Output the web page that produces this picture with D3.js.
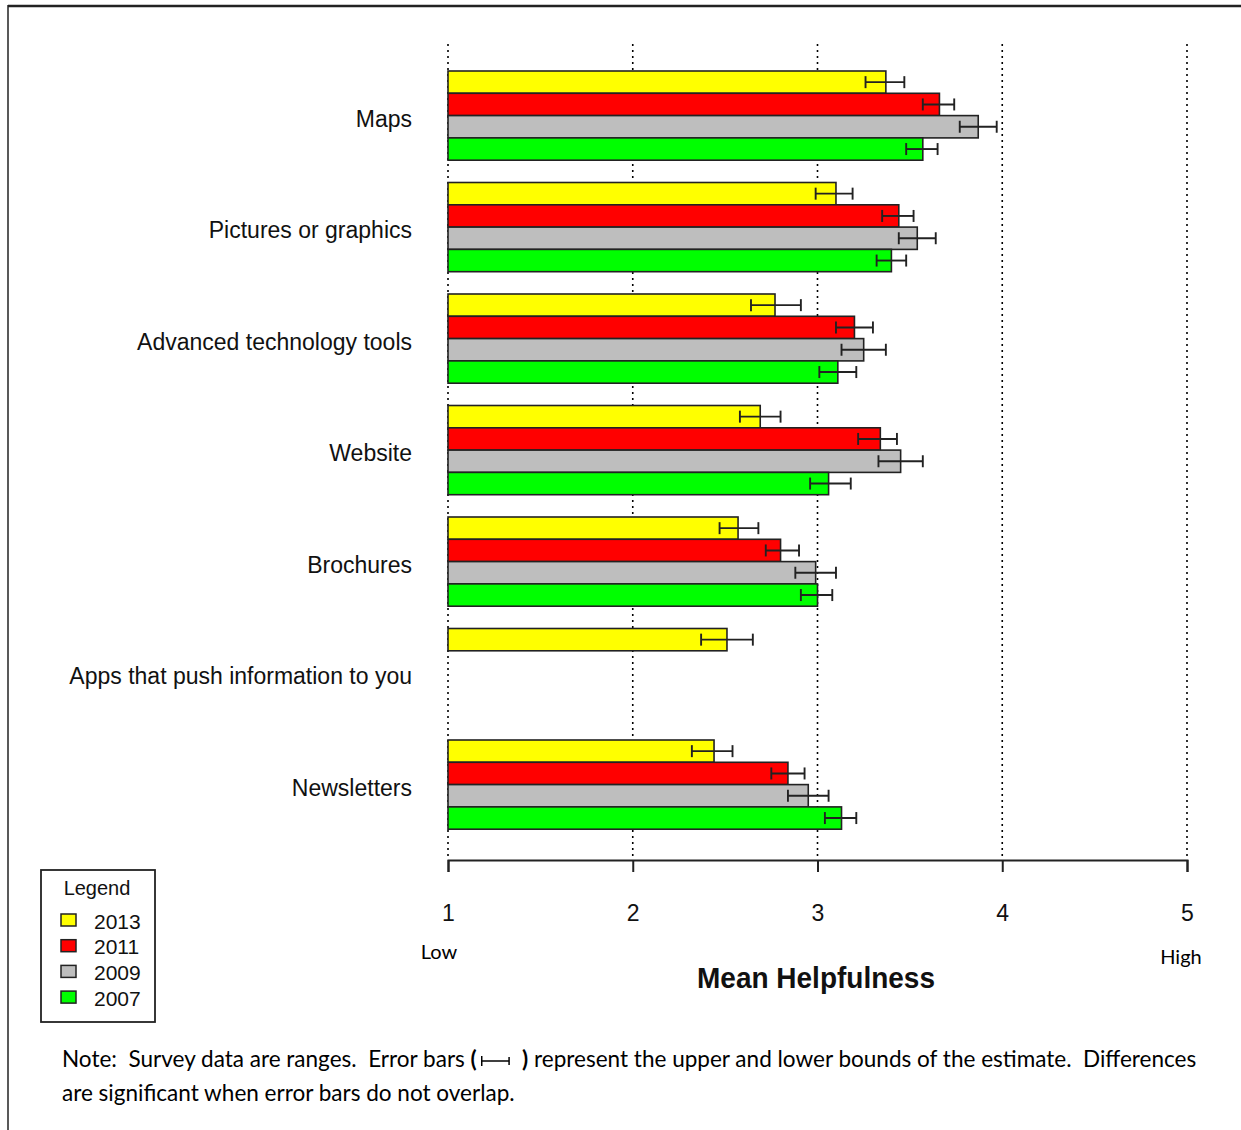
<!DOCTYPE html>
<html>
<head>
<meta charset="utf-8">
<script src="https://cdn.jsdelivr.net/npm/d3@7"></script>
<style>
  html, body { margin: 0; padding: 0; background: #fff; }
  svg { display: block; }
</style>
</head>
<body>
<svg id="chart" width="1241" height="1130"></svg>
<script>
// ---------- data ----------
const categories = ["Maps", "Pictures or graphics", "Advanced technology tools", "Website",
                    "Brochures", "Apps that push information to you", "Newsletters"];
const seriesNames = ["2013", "2011", "2009", "2007"];
const seriesColors = ["#FFFF00", "#FF0000", "#BEBEBE", "#00FF00"];

const mean2013 = [3.37, 3.10, 2.77, 2.69, 2.57, 2.51, 2.44];
const lo2013   = [3.26, 2.99, 2.64, 2.58, 2.47, 2.37, 2.32];
const hi2013   = [3.47, 3.19, 2.91, 2.80, 2.68, 2.65, 2.54];

const mean2011 = [3.66, 3.44, 3.20, 3.34, 2.80, null, 2.84];
const lo2011   = [3.57, 3.35, 3.10, 3.22, 2.72, null, 2.75];
const hi2011   = [3.74, 3.52, 3.30, 3.43, 2.90, null, 2.93];

const mean2009 = [3.87, 3.54, 3.25, 3.45, 2.99, null, 2.95];
const lo2009   = [3.77, 3.44, 3.13, 3.33, 2.88, null, 2.84];
const hi2009   = [3.97, 3.64, 3.37, 3.57, 3.10, null, 3.06];

const mean2007 = [3.57, 3.40, 3.11, 3.06, 3.00, null, 3.13];
const lo2007   = [3.48, 3.32, 3.01, 2.96, 2.91, null, 3.04];
const hi2007   = [3.65, 3.48, 3.21, 3.18, 3.08, null, 3.21];

const xTicks = [1, 2, 3, 4, 5];
const xAxisTitle = "Mean Helpfulness";
const lowLabel = "Low", highLabel = "High";
const legendTitle = "Legend";

const means = [mean2013, mean2011, mean2009, mean2007];
const los = [lo2013, lo2011, lo2009, lo2007];
const his = [hi2013, hi2011, hi2009, hi2007];

// ---------- build rows ----------
const slotsPerGroup = 5; // 4 bars + 1 gap
const rows = [];
categories.forEach((c, g) => {
  seriesNames.forEach((s, i) => {
    if (means[i][g] != null) {
      rows.push({cat: c, g, i, slot: g * slotsPerGroup + i, v: means[i][g], lo: los[i][g], hi: his[i][g], color: seriesColors[i]});
    }
  });
});

// ---------- scales ----------
const svg = d3.select("#chart");
const x = d3.scaleLinear().domain([1, 5]).range([448, 1187]);
const nSlots = categories.length * slotsPerGroup; // 35
const slotH = 22.3;
const y = d3.scaleLinear().domain([0, nSlots]).range([71, 71 + nSlots * slotH]);
const axisY = 860;
const gridTop = 44;

// frame
svg.append("line").attr("x1", 8).attr("x2", 1241).attr("y1", 6).attr("y2", 6)
  .attr("stroke", "#222").attr("stroke-width", 2.5);
svg.append("line").attr("x1", 8).attr("x2", 8).attr("y1", 5).attr("y2", 1130)
  .attr("stroke", "#222").attr("stroke-width", 1.5);

// gridlines
svg.append("g").selectAll("line").data(xTicks).join("line")
  .attr("x1", d => x(d)).attr("x2", d => x(d))
  .attr("y1", gridTop).attr("y2", axisY)
  .attr("stroke", "#000").attr("stroke-width", 1.6)
  .attr("stroke-dasharray", "2,4");

// bars
svg.append("g").selectAll("rect").data(rows).join("rect")
  .attr("x", x(1))
  .attr("y", d => y(d.slot))
  .attr("width", d => x(d.v) - x(1))
  .attr("height", slotH)
  .attr("fill", d => d.color)
  .attr("stroke", "#222").attr("stroke-width", 1.6);

// error bars
const eb = svg.append("g").attr("stroke", "#222").attr("stroke-width", 1.9);
rows.forEach(d => {
  const cy = y(d.slot + 0.5);
  eb.append("line").attr("x1", x(d.lo)).attr("x2", x(d.hi)).attr("y1", cy).attr("y2", cy);
  eb.append("line").attr("x1", x(d.lo)).attr("x2", x(d.lo)).attr("y1", cy - 6).attr("y2", cy + 6);
  eb.append("line").attr("x1", x(d.hi)).attr("x2", x(d.hi)).attr("y1", cy - 6).attr("y2", cy + 6);
});

// category labels
svg.append("g").selectAll("text").data(categories).join("text")
  .attr("x", 412)
  .attr("y", (d, g) => y(g * slotsPerGroup + 2) + 5)
  .attr("text-anchor", "end")
  .attr("dominant-baseline", "middle")
  .attr("font-family", "'Liberation Sans', Arial, sans-serif")
  .attr("font-size", 23)
  .attr("fill", "#111")
  .text(d => d);

// x axis
const axis = d3.axisBottom(x).tickValues(xTicks).tickFormat(d3.format("d")).tickSize(12).tickPadding(33);
const ax = svg.append("g").attr("transform", `translate(0,${axisY})`).call(axis);
ax.select(".domain").attr("stroke", "#222").attr("stroke-width", 2);
ax.selectAll(".tick line").attr("stroke", "#222").attr("stroke-width", 2);
ax.selectAll(".tick text")
  .attr("font-family", "'Liberation Sans Narrow', 'Liberation Sans', Arial, sans-serif")
  .attr("font-size", 23).attr("fill", "#111");

// Low / High
svg.append("text").attr("x", 439).attr("y", 959).attr("text-anchor", "middle")
  .attr("font-family", "Lato, 'Open Sans', sans-serif").attr("font-size", 20).attr("fill", "#000").text(lowLabel);
svg.append("text").attr("x", 1181).attr("y", 964).attr("text-anchor", "middle")
  .attr("font-family", "Lato, 'Open Sans', sans-serif").attr("font-size", 20).attr("fill", "#000").text(highLabel);

// axis title
svg.append("text").attr("x", 816).attr("y", 988).attr("text-anchor", "middle")
  .attr("font-family", "'Liberation Sans Narrow', 'Liberation Sans', Arial, sans-serif")
  .attr("font-weight", "bold").attr("font-size", 29)
  .attr("textLength", 238).attr("lengthAdjust", "spacingAndGlyphs")
  .attr("fill", "#111").text(xAxisTitle);

// legend
const lg = svg.append("g");
lg.append("rect").attr("x", 41).attr("y", 870).attr("width", 114).attr("height", 152)
  .attr("fill", "#fff").attr("stroke", "#222").attr("stroke-width", 1.8);
lg.append("text").attr("x", 97).attr("y", 895).attr("text-anchor", "middle")
  .attr("font-family", "'Liberation Sans', Arial, sans-serif").attr("font-size", 20)
  .attr("fill", "#111").text(legendTitle);
seriesNames.forEach((s, i) => {
  const cy = 920 + i * 25.7;
  lg.append("rect").attr("x", 61).attr("y", cy - 6).attr("width", 15).attr("height", 12)
    .attr("fill", seriesColors[i]).attr("stroke", "#222").attr("stroke-width", 1.5);
  lg.append("text").attr("x", 94).attr("y", cy + 3).attr("dominant-baseline", "middle")
    .attr("font-family", "'Liberation Sans', Arial, sans-serif").attr("font-size", 21)
    .attr("fill", "#111").text(s);
});

// note
const noteFont = "Lato, 'Open Sans', sans-serif";
const note = svg.append("g").attr("font-family", noteFont).attr("fill", "#000");
const line1 = note.append("text").attr("x", 62).attr("y", 1067).attr("font-size", 20).attr("xml:space", "preserve");
line1.append("tspan").text("Note:  Survey data are ranges.  Error bars ");
line1.append("tspan").attr("font-weight", "bold").text("(");
line1.append("tspan").text(" \u2003\u2003 ");
line1.append("tspan").attr("font-weight", "bold").text(")");
line1.append("tspan").text(" represent the upper and lower bounds of the estimate.  Differences");
// fit to target width
const w0 = line1.node().getComputedTextLength();
const fs = 20 * 1135 / w0;
line1.attr("font-size", fs);
note.append("text").attr("x", 62).attr("y", 1101).attr("font-size", fs)
  .text("are significant when error bars do not overlap.");
// draw the error-bar symbol in the gap
const txt = line1.node();
const full = txt.textContent;
const idx = full.indexOf("(") + 1;
const sx0 = txt.getStartPositionOfChar(idx).x + 5;
const idx2 = full.indexOf(")");
const sx1 = txt.getStartPositionOfChar(idx2).x - 13;
const sy = 1061;
note.append("line").attr("x1", sx0).attr("x2", sx1).attr("y1", sy).attr("y2", sy).attr("stroke", "#000").attr("stroke-width", 1.5);
note.append("line").attr("x1", sx0).attr("x2", sx0).attr("y1", sy - 5).attr("y2", sy + 5).attr("stroke", "#000").attr("stroke-width", 1.5);
note.append("line").attr("x1", sx1).attr("x2", sx1).attr("y1", sy - 4).attr("y2", sy + 4).attr("stroke", "#000").attr("stroke-width", 1.5);
</script>
</body>
</html>
